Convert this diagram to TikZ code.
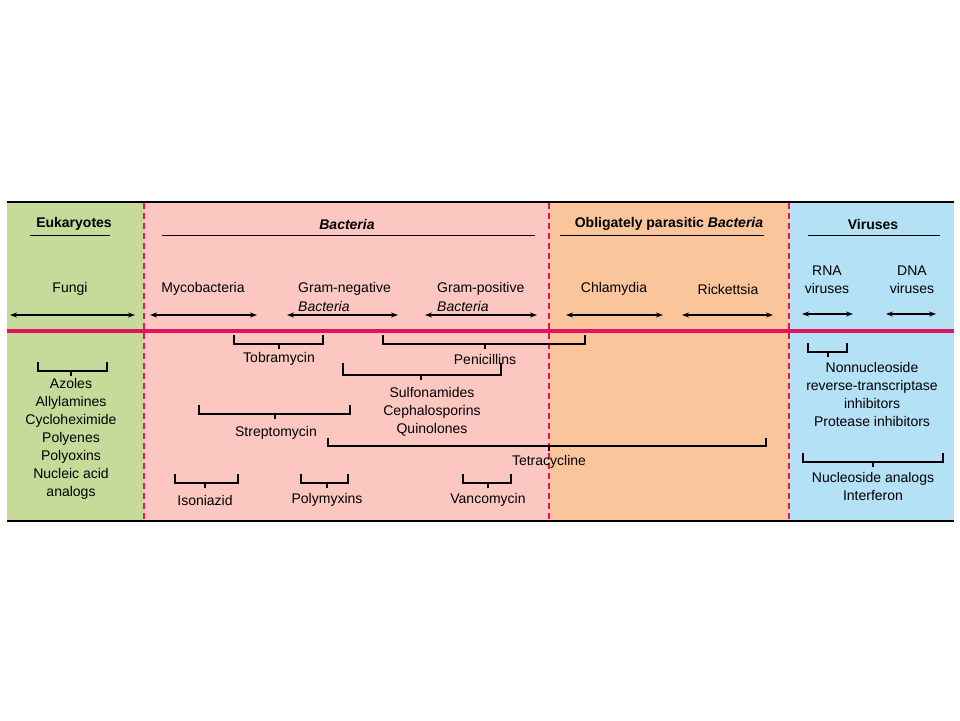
\documentclass[tikz,border=0pt]{standalone}
\usepackage{fontspec}
\setmainfont{Liberation Sans}
\usetikzlibrary{arrows.meta}
\definecolor{cgreen}{HTML}{C6DA9A}
\definecolor{cpink}{HTML}{FCC6C1}
\definecolor{corange}{HTML}{FBC59B}
\definecolor{cblue}{HTML}{B5E1F6}
\definecolor{cmag}{HTML}{E2135F}
\tikzset{
  lbl/.style={inner sep=0pt,font=\fontsize{14}{18}\selectfont,align=center},
  hdr/.style={lbl,font=\fontsize{14}{18}\selectfont\bfseries},
  rng/.style={line width=1.3pt,{Stealth[length=7pt,width=5pt]}-{Stealth[length=7pt,width=5pt]}},
  brk/.style={line width=1.6pt},
  uline/.style={line width=0.8pt},
  divider/.style={cmag,line width=2.6pt,dash pattern=on 6pt off 4pt}
}
\newcommand{\brkt}[5]{% x1 x2 top bottom tickx
  \draw[brk] (#1,#3) -- (#1,#4) -- (#2,#4) -- (#2,#3);
  \draw[brk] (#5,#4) -- (#5,#4+5);}
\begin{document}
\begin{tikzpicture}[x=1pt,y=-1pt]
\useasboundingbox (0,0) rectangle (960,720);
\fill[white] (0,0) rectangle (960,720);
\fill[cgreen] (7,202) rectangle (144,521);
\fill[cpink] (144,202) rectangle (549,521);
\fill[corange] (549,202) rectangle (789,521);
\fill[cblue] (789,202) rectangle (954,521);
\draw[line width=1.5pt] (7,202) -- (954,202);
\draw[line width=1.5pt] (7,521) -- (954,521);
\draw[cmag,line width=3.5pt] (7,331) -- (954,331);
\foreach \x in {144,549,789} \draw[divider] (\x,203) -- (\x,520);

% headers
\node[hdr] (euk) at (74,224) {Eukaryotes};
\draw[uline] (30,235) -- (110,235);
\node[hdr] (bac) at (347,224) {\itshape Bacteria};
\draw[uline] (162,235) -- (535,235);
\node[hdr] (obl) at (669,224) {Obligately parasitic \textit{Bacteria}};
\draw[uline] (560,235) -- (764,235);
\node[hdr] (vir) at (873,224) {Viruses};
\draw[uline] (808,235) -- (940,235);

% groups
\node[lbl] (fungi) at (70,289) {Fungi};
\node[lbl] (myco) at (203,289) {Mycobacteria};
\node[lbl,anchor=west] (gneg) at (298,289) {Gram-negative};
\node[lbl,anchor=west] (gnegb) at (298,306) {\itshape Bacteria};
\node[lbl,anchor=west] (gpos) at (437,289) {Gram-positive};
\node[lbl,anchor=west] (gposb) at (437,306) {\itshape Bacteria};
\node[lbl] (chl) at (614,289) {Chlamydia};
\node[lbl] (ric) at (728,289) {Rickettsia};
\node[lbl] (rna) at (827,280) {RNA\\viruses};
\node[lbl] (dna) at (912,280) {DNA\\viruses};

\draw[rng] (10,315) -- (135,315);
\draw[rng] (150,315) -- (257,315);
\draw[rng] (287,315) -- (398,315);
\draw[rng] (425,315) -- (537,315);
\draw[rng] (566,315) -- (663,315);
\draw[rng] (682,315) -- (773,315);
\draw[rng] (802,314) -- (853,314);
\draw[rng] (886,314) -- (936,314);

% drugs
\brkt{234}{323}{335}{344}{279}
\node[lbl] (tob) at (279,359) {Tobramycin};
\brkt{383}{585}{335}{344}{485}
\node[lbl] (pen) at (485,359) {Penicillins};
\brkt{343}{501}{363}{375}{421}
\node[lbl] (sul) at (432,412) {Sulfonamides\\Cephalosporins\\Quinolones};
\brkt{199}{350}{405}{414}{275}
\node[lbl] (str) at (276,433) {Streptomycin};
\brkt{328}{766}{438}{446}{549}
\node[lbl] (tet) at (549,462) {Tetracycline};
\brkt{175}{238}{474}{483}{205}
\node[lbl] (iso) at (205,500) {Isoniazid};
\brkt{301}{348}{474}{483}{327}
\node[lbl] (pol) at (327,500) {Polymyxins};
\brkt{463}{511}{474}{483}{488}
\node[lbl] (van) at (488,500) {Vancomycin};

\brkt{38}{107}{362}{371}{71}
\node[lbl,anchor=north] (fdr) at (71,378) {Azoles\\Allylamines\\Cycloheximide\\Polyenes\\Polyoxins\\Nucleic acid\\analogs};

\brkt{808}{847}{343}{352}{828}
\node[lbl,anchor=north] (nnrti) at (872,362) {Nonnucleoside\\reverse-transcriptase\\inhibitors\\Protease inhibitors};
\brkt{803}{943}{453}{462}{873}
\node[lbl,anchor=north] (nuc) at (873,472) {Nucleoside analogs\\Interferon};
\end{tikzpicture}
\end{document}
